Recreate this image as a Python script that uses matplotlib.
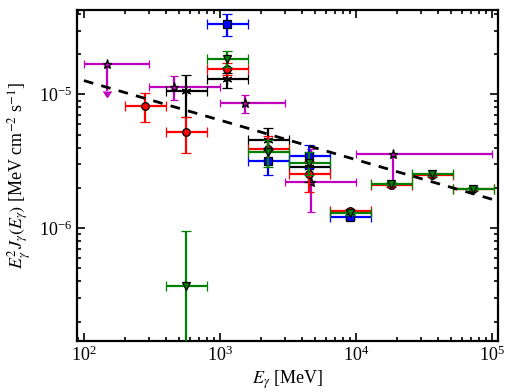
import numpy as np
import matplotlib
matplotlib.use("Agg")
import matplotlib.pyplot as plt
from matplotlib.ticker import LogLocator, LogFormatterMathtext, NullFormatter

plt.rcParams['font.family'] = ['Liberation Serif', 'DejaVu Serif']
plt.rcParams['mathtext.fontset'] = 'stix'

# ---- data (E in MeV, E^2 J in MeV cm^-2 s^-1) ----
# red circles
red_elo = [200, 400, 800, 1600, 3200, 6400, 12800, 25600, 51200]
red_ehi = [400, 800, 1600, 3200, 6400, 12800, 25600, 51200, 102400]
red_y   = [8.13e-6, 5.26e-6, 1.56e-5, 3.94e-6, 2.56e-6, 1.355e-6, 2.10e-6, 2.48e-6, 1.95e-6]
red_yhi = [1.03e-5, 6.80e-6, 1.73e-5, 4.93e-6, 3.20e-6, 1.40e-6, 2.16e-6, 2.55e-6, 2.00e-6]
red_ylo = [6.21e-6, 3.68e-6, 1.41e-5, 3.26e-6, 1.86e-6, 1.31e-6, 2.04e-6, 2.41e-6, 1.90e-6]

# green down-triangles
grn_elo = [400, 800, 1600, 3200, 6400, 12800, 25600, 51200]
grn_ehi = [800, 1600, 3200, 6400, 12800, 25600, 51200, 102400]
grn_y   = [3.66e-7, 1.85e-5, 3.74e-6, 3.05e-6, 1.30e-6, 2.15e-6, 2.52e-6, 1.97e-6]
grn_yhi = [9.44e-7, 2.11e-5, 4.60e-6, 3.74e-6, 1.34e-6, 2.21e-6, 2.58e-6, 2.02e-6]
grn_ylo = [1.0e-8, 1.60e-5, 2.89e-6, 2.48e-6, 1.26e-6, 2.09e-6, 2.46e-6, 1.92e-6]

# blue squares
blu_elo = [800, 1600, 3200, 6400]
blu_ehi = [1600, 3200, 6400, 12800]
blu_y   = [3.34e-5, 3.20e-6, 3.45e-6, 1.22e-6]
blu_yhi = [3.97e-5, 4.00e-6, 4.22e-6, 1.26e-6]
blu_ylo = [2.73e-5, 2.48e-6, 2.84e-6, 1.18e-6]

# black asterisks
blk_elo = [400, 800, 1600, 3200]
blk_ehi = [800, 1600, 3200, 6400]
blk_y   = [1.06e-5, 1.31e-5, 4.55e-6, 2.86e-6]
blk_yhi = [1.41e-5, 1.45e-5, 5.57e-6, 3.50e-6]
blk_ylo = [6.84e-6, 1.11e-5, 3.87e-6, 2.23e-6]

# magenta stars (some upper limits)
mag_x   = [147, 460, 1530, 4670, 18600]
mag_elo = [100, 300, 1000, 3000, 10000]
mag_ehi = [300, 1000, 3000, 10000, 100000]
mag_y   = [1.70e-5, 1.14e-5, 8.57e-6, 2.23e-6, 3.61e-6]
mag_yhi = [1.70e-5, 1.37e-5, 9.88e-6, 3.90e-6, 3.61e-6]
mag_ylo = [1.06e-5, 9.06e-6, 7.30e-6, 1.31e-6, 2.17e-6]
mag_ul  = [True, False, False, False, True]

# power-law fit (dashed)
fit_norm = 1.27e-5   # at 100 MeV
fit_slope = -0.296
fit_e = [100, 100000]

fig = plt.figure(figsize=(5.10, 3.92), dpi=100)
ax = fig.add_axes([0.151, 0.130, 0.825, 0.845])

def draw(xc, elo, ehi, y, yhi, ylo, color, marker, ms, mfc, mec, uplims=False,
         z=2, cs=3.5):
    xc = np.asarray(xc, float); y = np.asarray(y, float)
    xerr = [xc - np.asarray(elo), np.asarray(ehi) - xc]
    yerr = [y - np.asarray(ylo), np.asarray(yhi) - y]
    ax.errorbar(xc, y, xerr=xerr, yerr=yerr, fmt='', marker=marker,
                linestyle='none', color=color,
                ecolor=color, elinewidth=1.6, capsize=cs, capthick=1.6,
                ms=ms, mfc=mfc, mec=mec, mew=0.9, uplims=uplims, zorder=z)

ctr = lambda a, b: np.sqrt(np.asarray(a, float) * np.asarray(b, float))

draw(mag_x, mag_elo, mag_ehi, mag_y, mag_yhi, mag_ylo, 'm', '*', 6.5, 'm', 'k',
     uplims=mag_ul, z=2, cs=3)
draw(ctr(blk_elo, blk_ehi), blk_elo, blk_ehi, blk_y, blk_yhi, blk_ylo, 'k', (6, 2, 0), 7, 'k', 'k', z=3)
draw(ctr(red_elo, red_ehi), red_elo, red_ehi, red_y, red_yhi, red_ylo, 'r', 'o', 5.5, 'r', 'k', z=4)
draw(ctr(blu_elo, blu_ehi), blu_elo, blu_ehi, blu_y, blu_yhi, blu_ylo, 'b', 's', 5.5, 'b', 'k', z=5)
draw(ctr(grn_elo, grn_ehi), grn_elo, grn_ehi, grn_y, grn_yhi, grn_ylo, 'g', 'v', 5.5, 'g', 'k', z=6)

fe = np.array(fit_e, float)
ax.plot(fe, fit_norm * (fe / 100.0) ** fit_slope, color='k', lw=2.0,
        dashes=(3.5, 3.0), zorder=7)

ax.set_xscale('log')
ax.set_yscale('log')
ax.set_xlim(89, 1.1e5)
ax.set_ylim(1.43e-7, 4.3e-5)

ax.xaxis.set_major_locator(LogLocator(base=10))
ax.yaxis.set_major_locator(LogLocator(base=10))
ax.xaxis.set_minor_locator(LogLocator(base=10, subs=np.arange(2, 10)))
ax.yaxis.set_minor_locator(LogLocator(base=10, subs=np.arange(2, 10)))
ax.xaxis.set_major_formatter(LogFormatterMathtext())
ax.yaxis.set_major_formatter(LogFormatterMathtext())
ax.xaxis.set_minor_formatter(NullFormatter())
ax.yaxis.set_minor_formatter(NullFormatter())

ax.tick_params(which='both', direction='in', top=True, right=True, width=1.2,
               labelsize=13)
ax.tick_params(which='major', length=6)
ax.tick_params(which='minor', length=3)
for s in ax.spines.values():
    s.set_linewidth(1.6)

ax.set_xlabel(r'$E_\gamma$ [MeV]', fontsize=13, labelpad=2)
ax.set_ylabel(r'$E_\gamma^2 J_\gamma(E_\gamma)$ [MeV cm$^{-2}$ s$^{-1}$]',
              fontsize=13, labelpad=4)

fig.savefig('out.png', dpi=100)
